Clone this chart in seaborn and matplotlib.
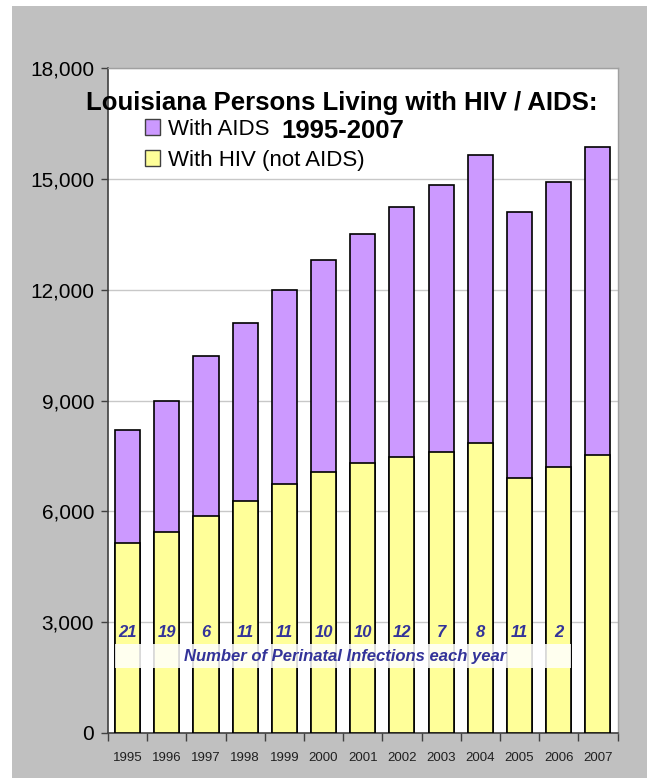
import numpy as np
import pandas as pd
import matplotlib
matplotlib.use("Agg")
import matplotlib.pyplot as plt
from matplotlib.patches import Rectangle, Patch
import seaborn as sns

# ---- data ----
years = ["1995", "1996", "1997", "1998", "1999", "2000", "2001",
         "2002", "2003", "2004", "2005", "2006", "2007"]
with_hiv = [5130, 5450, 5880, 6280, 6740, 7070, 7300,
            7480, 7610, 7840, 6900, 7190, 7530]
total_living = [8200, 9000, 10200, 11100, 11990, 12800, 13500,
                14230, 14840, 15650, 14100, 14910, 15860]
perinatal = ["21", "19", "6", "11", "11", "10", "10", "12", "7", "8", "11", "2", ""]

df = pd.DataFrame({"year": years, "hiv": with_hiv, "total": total_living})

sns.set_style("white")
plt.rcParams["font.family"] = ["Liberation Sans", "DejaVu Sans"]
plt.rcParams["text.color"] = "black"
plt.rcParams["xtick.color"] = "black"
plt.rcParams["ytick.color"] = "black"

PURPLE = "#CC99FF"
YELLOW = "#FFFF99"
INK = "#333399"

fig = plt.figure(figsize=(6.47, 7.78), dpi=100, facecolor="white")
# gray chart area (white strip on the left and top, like the screenshot)
fig.patches.append(Rectangle((12 / 647, 0), 1 - 12 / 647, 1 - 6 / 778,
                             transform=fig.transFigure, facecolor="#C0C0C0",
                             edgecolor="none", zorder=-10))

ax = fig.add_axes([108 / 647, 1 - 733 / 778, (617.5 - 108) / 647, (733 - 68) / 778])
ax.set_facecolor("white")

bw = 0.64
sns.barplot(data=df, x="year", y="total", color=PURPLE, width=bw,
            edgecolor="black", linewidth=1.2, saturation=1, ax=ax, zorder=3)
sns.barplot(data=df, x="year", y="hiv", color=YELLOW, width=bw,
            edgecolor="black", linewidth=1.2, saturation=1, ax=ax, zorder=4)

ax.set_ylim(0, 18000)
ax.set_xlim(-0.5, len(years) - 0.5)
ax.set_yticks(np.arange(0, 18001, 3000))
ax.set_yticklabels([f"{v:,}" for v in range(0, 18001, 3000)], fontsize=15)
ax.yaxis.grid(True, color="#C8C8C8", linewidth=1, zorder=0)
ax.set_axisbelow(True)
ax.tick_params(axis="y", length=5, width=1, color="#404040", pad=5, left=True)

# category boundary ticks on x, labels centred under bars
ax.set_xticks(np.arange(-0.5, len(years), 1.0))
ax.set_xticklabels([])
ax.set_xticks(np.arange(len(years)), minor=True)
ax.set_xticklabels(years, minor=True, fontsize=9.5, color="#202020")
ax.tick_params(axis="x", which="major", length=6, width=1, color="#404040", bottom=True)
ax.tick_params(axis="x", which="minor", length=0, pad=14)
ax.set_xlabel("")
ax.set_ylabel("")

for side in ["left", "bottom"]:
    ax.spines[side].set_color("#404040")
    ax.spines[side].set_linewidth(1.2)
for side in ["top", "right"]:
    ax.spines[side].set_color("#A0A0A0")
    ax.spines[side].set_linewidth(1)

# perinatal infections band
ax.add_patch(Rectangle((-bw / 2, 1755), 11 + bw, 650, facecolor="white",
                       edgecolor="none", alpha=0.85, zorder=5))
for i, n in enumerate(perinatal):
    if n:
        ax.text(i, 2730, n, ha="center", va="center", fontsize=12,
                fontweight="bold", fontstyle="italic", color=INK, zorder=6)
ax.text(5.55, 2080, "Number of Perinatal Infections each year", ha="center",
        va="center", fontsize=12, fontweight="bold", fontstyle="italic",
        color=INK, zorder=6)

handles = [Patch(facecolor=PURPLE, edgecolor="#404040", label="With AIDS"),
           Patch(facecolor=YELLOW, edgecolor="#404040", label="With HIV (not AIDS)")]
ax.legend(handles=handles, loc="upper left", bbox_to_anchor=(0.055, 0.937),
          frameon=False, fontsize=16, handlelength=0.7, handleheight=0.7,
          handletextpad=0.35, labelspacing=0.45, borderaxespad=0)

# title drawn as two lines, like the original chart
fig.text(342 / 647, 1 - 103 / 778, "Louisiana Persons Living with HIV / AIDS:",
         ha="center", va="center", fontsize=18.5, fontweight="bold", zorder=20)
fig.text(343 / 647, 1 - 131 / 778, "1995-2007",
         ha="center", va="center", fontsize=18.5, fontweight="bold", zorder=20)

fig.savefig("out.png", dpi=100)
